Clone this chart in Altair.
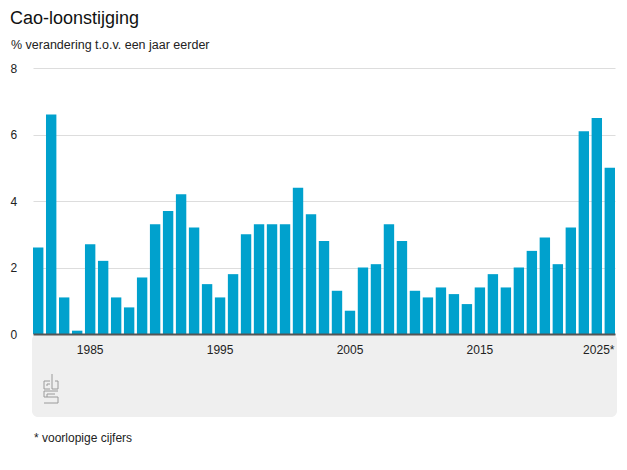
import altair as alt
import pandas as pd

years = list(range(1981, 2026))
values = [2.6, 6.6, 1.1, 0.1, 2.7, 2.2, 1.1, 0.8, 1.7, 3.3,
          3.7, 4.2, 3.2, 1.5, 1.1, 1.8, 3.0, 3.3, 3.3, 3.3,
          4.4, 3.6, 2.8, 1.3, 0.7, 2.0, 2.1, 3.3, 2.8, 1.3,
          1.1, 1.4, 1.2, 0.9, 1.4, 1.8, 1.4, 2.0, 2.5, 2.9,
          2.1, 3.2, 6.1, 6.5, 5.0]
x_ticks = [1985, 1995, 2005, 2015, 2025]
y_ticks = [0, 2, 4, 6, 8]

title_text = "Cao-loonstijging"
subtitle_text = "% verandering t.o.v. een jaar eerder"
footnote_text = "* voorlopige cijfers"

W, H = 582, 266
FONT = "Liberation Sans"
BLUE = "#00a1cd"

df = pd.DataFrame({"jaar": years, "waarde": values})

# decorative grey panel behind the x axis
panel = alt.Chart(pd.DataFrame({"a": [0]})).mark_rect(
    color="#efefef", cornerRadius=6
).encode(
    x=alt.value(-1), x2=alt.value(W + 2), y=alt.value(H), y2=alt.value(H + 83)
)

# simplified CBS logo (decoration), pixel segments relative to the plot origin
logo_segments = pd.DataFrame({
    "x1": [11, 11, 11, 14, 14, 19, 19, 25, 22, 11, 11, 11, 25, 11, 14, 14, 22],
    "y1": [313, 313, 321, 316, 316, 306, 321, 313, 313, 323, 323, 329, 329, 335, 326, 326, 332],
    "x2": [17, 11, 17, 17, 14, 19, 25, 25, 25, 25, 11, 25, 25, 25, 22, 14, 22],
    "y2": [313, 321, 321, 316, 318, 321, 321, 321, 313, 323, 329, 329, 335, 335, 326, 329, 332],
})
logo = alt.Chart(logo_segments).mark_rule(color="#9a9a9a", strokeWidth=1).encode(
    x=alt.X("x1:Q", scale=None), y=alt.Y("y1:Q", scale=None),
    x2="x2:Q", y2="y2:Q"
)

bars = alt.Chart(df).mark_bar(color=BLUE).encode(
    x=alt.X("jaar:O", title=None,
            scale=alt.Scale(paddingInner=0.2, paddingOuter=0.0),
            axis=alt.Axis(values=x_ticks, labelAngle=0, ticks=False,
                          domain=True, domainColor="#555555", domainWidth=2,
                          labelPadding=10, labelFontSize=12, labelFont=FONT,
                          labelColor="#222222", grid=False, zindex=2,
                          labelExpr="datum.value == 2025 ? '2025*' : datum.label",
                          labelOffset={"condition": {"test": "datum.value == 2025", "value": -11}, "value": 0})),
    y=alt.Y("waarde:Q", title=None,
            scale=alt.Scale(domain=[0, 8], nice=False),
            axis=alt.Axis(values=y_ticks, ticks=False, domain=False,
                          grid=True, gridColor="#dddddd", gridWidth=1,
                          labelAlign="left", labelPadding=23,
                          labelFontSize=12, labelFont=FONT, labelColor="#222222")),
)

title = alt.Chart(pd.DataFrame({"t": [title_text]})).mark_text(
    align="left", baseline="alphabetic", fontSize=18, font=FONT, color="#111111"
).encode(x=alt.value(-23), y=alt.value(-44), text="t:N")

subtitle = alt.Chart(pd.DataFrame({"t": [subtitle_text]})).mark_text(
    align="left", baseline="alphabetic", fontSize=12.5, font=FONT, color="#222222"
).encode(x=alt.value(-22), y=alt.value(-19), text="t:N")

footnote = alt.Chart(pd.DataFrame({"t": [footnote_text]})).mark_text(
    align="left", baseline="alphabetic", fontSize=12, font=FONT, color="#222222"
).encode(x=alt.value(1), y=alt.value(374), text="t:N")

chart = alt.layer(panel, logo, bars, title, subtitle, footnote).properties(
    width=W, height=H,
    background="white",
    autosize=alt.AutoSizeParams(type="none"),
    padding={"left": 25, "top": 60, "right": 4, "bottom": 128},
).configure_view(stroke=None)

chart.save("out.html", embed_options={"renderer": "svg", "actions": False})
